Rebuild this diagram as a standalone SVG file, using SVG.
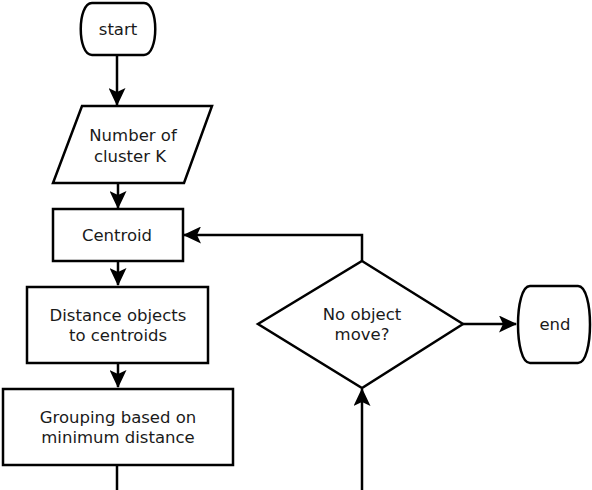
<svg xmlns="http://www.w3.org/2000/svg" width="592" height="490" viewBox="0 0 592 490">
<style>
.s{fill:#fff;stroke:#000;stroke-width:2.5;stroke-linejoin:miter}
.c{fill:none;stroke:#000;stroke-width:2.5}
text{font-family:"DejaVu Sans","Liberation Sans",sans-serif;font-size:16.5px;fill:#1a1a1a;text-anchor:middle}
</style>
<defs>
<marker id="ah" markerUnits="userSpaceOnUse" markerWidth="18" markerHeight="17" viewBox="0 0 18 17" refX="17" refY="8.5" orient="auto">
<path d="M0,0 L18,8.5 L0,17 L4,8.5 Z" fill="#000"/>
</marker>
</defs>
<rect width="592" height="490" fill="#fff"/>
<g id="connectors">
<path class="c" d="M117,55 V105" marker-end="url(#ah)"/>
<path class="c" d="M118,183 V208" marker-end="url(#ah)"/>
<path class="c" d="M118,261 V285" marker-end="url(#ah)"/>
<path class="c" d="M118,363 V387" marker-end="url(#ah)"/>
<path class="c" d="M117,465 V490"/>
<path class="c" d="M362,261 V235 H184" marker-end="url(#ah)"/>
<path class="c" d="M362,490 V389" marker-end="url(#ah)"/>
<path class="c" d="M463,324 H516" marker-end="url(#ah)"/>
</g>
<g id="start">
<path class="s" d="M92,3 H144 C159,3 159,55 144,55 H92 C77,55 77,3 92,3 Z"/>
<text x="118" y="35">start</text>
</g>
<g id="input">
<path class="s" d="M82,106 H212 L184,183 H53 Z"/>
<text x="133" y="141">Number of</text>
<text x="130" y="162">cluster K</text>
</g>
<g id="centroid">
<rect class="s" x="53" y="209" width="130" height="52"/>
<text x="117" y="241">Centroid</text>
</g>
<g id="distance">
<rect class="s" x="27" y="287" width="181" height="76"/>
<text x="118" y="321">Distance objects</text>
<text x="118" y="341">to centroids</text>
</g>
<g id="grouping">
<rect class="s" x="3" y="389" width="230" height="76"/>
<text x="118" y="423">Grouping based on</text>
<text x="118" y="443">minimum distance</text>
</g>
<g id="decision">
<path class="s" d="M362,261 L463,324 L362,388 L258,324 Z"/>
<text x="362" y="320">No object</text>
<text x="362" y="340">move?</text>
</g>
<g id="end">
<path class="s" d="M530,286 H578 C594,286 594,363 578,363 H530 C514,363 514,286 530,286 Z"/>
<text x="555" y="330">end</text>
</g>
</svg>
